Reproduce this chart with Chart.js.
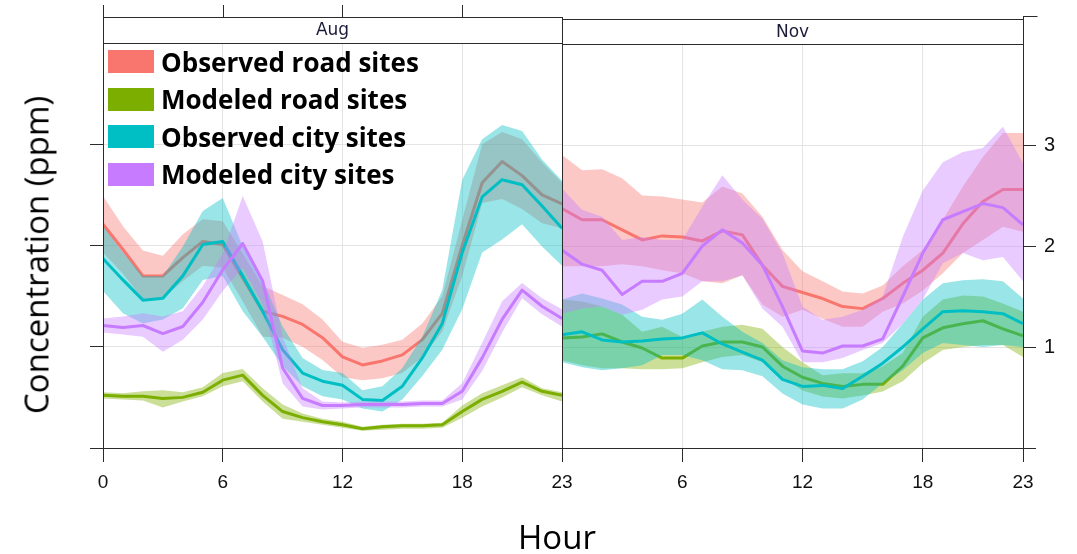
<!DOCTYPE html>
<html>
<head>
<meta charset="utf-8">
<title>Hourly concentration by month</title>
<script src="https://cdn.jsdelivr.net/npm/chart.js@4.4.1/dist/chart.umd.min.js"></script>
<style>
  html, body { margin: 0; padding: 0; background: #fff; }
  #wrap { position: relative; width: 1077px; height: 554px; overflow: hidden; background: #fff; }
  #wrap canvas { position: absolute; left: 0; top: 0; }
  .ytitle { position: absolute; left: 36px; top: 255px; transform: translate(-50%, -50%) rotate(-90deg);
            font: 33px 'Open Sans', Lato, sans-serif; color: #000; white-space: nowrap; }
  .xtitle { position: absolute; left: 557px; top: 536px; transform: translate(-50%, -50%);
            font: 33px 'Open Sans', Lato, sans-serif; color: #000; white-space: nowrap; }
  .legend { position: absolute; left: 108px; top: 43px; }
  .legend .row { display: flex; align-items: center; height: 37.5px; }
  .legend .sw { width: 46px; height: 23px; margin-right: 7px; }
  .legend .lab { font: bold 26px 'Open Sans', Lato, sans-serif; color: #000; white-space: nowrap; }
</style>
</head>
<body>
<div id="wrap">
  <canvas id="aug" width="1077" height="554"></canvas>
  <canvas id="nov" width="1077" height="554"></canvas>
  <div class="ytitle">Concentration (ppm)</div>
  <div class="xtitle">Hour</div>
  <div class="legend" id="legend"></div>
</div>
<script>
// Hour of day
const hours = [0,1,2,3,4,5,6,7,8,9,10,11,12,13,14,15,16,17,18,19,20,21,22,23];
const augHourTicks = [0, 6, 12, 18, 23];
const novHourTicks = [6, 12, 18, 23];
const concTicks = [0, 1, 2, 3];

const seriesNames = ['Observed road sites', 'Modeled road sites', 'Observed city sites', 'Modeled city sites'];
const seriesColors = ['#F8766D', '#7CAE00', '#00BFC4', '#C77CFF'];

// August: mean and band (low / high) per hour
const augObsRoad   = [2.21,1.96,1.70,1.70,1.88,2.04,2.01,1.68,1.35,1.30,1.22,1.09,0.90,0.82,0.86,0.92,1.07,1.33,2.00,2.62,2.83,2.69,2.50,2.41];
const augObsRoadLo = [1.93,1.72,1.47,1.48,1.65,1.80,1.78,1.45,1.10,1.09,1.00,0.87,0.70,0.67,0.69,0.74,0.90,1.15,1.70,2.42,2.46,2.36,2.22,2.17];
const augObsRoadHi = [2.49,2.19,1.95,1.90,2.11,2.26,2.24,1.92,1.60,1.51,1.42,1.27,1.05,0.99,1.02,1.07,1.23,1.50,2.25,3.00,3.12,3.05,2.82,2.62];

const augModRoad   = [0.52,0.51,0.51,0.49,0.50,0.55,0.67,0.72,0.52,0.36,0.30,0.26,0.23,0.19,0.21,0.22,0.22,0.23,0.36,0.48,0.56,0.65,0.56,0.52];
const augModRoadLo = [0.49,0.48,0.47,0.40,0.46,0.51,0.61,0.66,0.46,0.29,0.26,0.23,0.20,0.17,0.18,0.19,0.19,0.20,0.30,0.41,0.50,0.60,0.52,0.46];
const augModRoadHi = [0.55,0.54,0.56,0.57,0.55,0.60,0.74,0.78,0.59,0.43,0.34,0.29,0.26,0.21,0.23,0.24,0.24,0.25,0.42,0.54,0.62,0.70,0.59,0.55];

const augObsCity   = [1.87,1.66,1.46,1.48,1.70,2.01,2.04,1.70,1.35,0.97,0.74,0.66,0.62,0.48,0.47,0.61,0.89,1.23,1.93,2.48,2.65,2.60,2.39,2.17];
const augObsCityLo = [1.55,1.33,1.23,1.27,1.38,1.66,1.70,1.35,1.10,0.81,0.61,0.51,0.48,0.39,0.36,0.48,0.71,0.97,1.37,1.93,2.06,2.21,1.99,1.80];
const augObsCityHi = [2.19,1.93,1.70,1.70,1.99,2.34,2.47,1.99,1.66,1.20,0.89,0.77,0.74,0.57,0.61,0.79,1.10,1.56,2.65,3.05,3.19,3.13,2.85,2.64];

const augModCity   = [1.21,1.19,1.21,1.13,1.20,1.44,1.76,2.02,1.65,0.79,0.49,0.42,0.42,0.43,0.43,0.43,0.44,0.44,0.56,0.89,1.27,1.56,1.40,1.28];
const augModCityLo = [1.14,1.12,1.10,0.95,1.07,1.27,1.55,1.78,1.42,0.64,0.41,0.38,0.39,0.40,0.40,0.40,0.41,0.41,0.48,0.76,1.14,1.48,1.32,1.20];
const augModCityHi = [1.28,1.30,1.33,1.30,1.35,1.60,1.92,2.49,2.04,1.10,0.59,0.46,0.45,0.46,0.46,0.46,0.47,0.47,0.64,1.04,1.45,1.63,1.48,1.37];

// November: mean and band (low / high) per hour
const novObsRoad   = [2.37,2.26,2.26,2.16,2.06,2.10,2.09,2.05,2.15,2.11,1.81,1.60,1.54,1.48,1.40,1.38,1.48,1.63,1.76,1.93,2.22,2.44,2.56,2.56];
const novObsRoadLo = [1.80,1.80,1.80,1.82,1.80,1.76,1.73,1.65,1.63,1.71,1.42,1.30,1.37,1.28,1.20,1.20,1.35,1.43,1.56,1.73,1.93,2.06,2.19,2.14];
const novObsRoadHi = [2.90,2.75,2.76,2.67,2.50,2.49,2.46,2.43,2.59,2.52,2.29,1.96,1.75,1.65,1.55,1.53,1.61,1.80,1.96,2.26,2.59,2.88,3.12,3.12];

const novModRoad   = [1.09,1.10,1.13,1.05,0.99,0.89,0.89,1.01,1.05,1.05,1.00,0.81,0.70,0.64,0.61,0.63,0.63,0.81,1.09,1.19,1.23,1.26,1.18,1.11];
const novModRoadLo = [0.87,0.82,0.79,0.79,0.78,0.78,0.79,0.85,0.90,0.92,0.85,0.70,0.57,0.51,0.49,0.52,0.56,0.66,0.84,0.97,1.00,1.02,1.02,0.90];
const novModRoadHi = [1.47,1.45,1.40,1.32,1.15,1.20,1.10,1.15,1.20,1.22,1.18,1.00,0.85,0.72,0.74,0.74,0.81,0.94,1.30,1.47,1.51,1.50,1.43,1.35];

const novObsCity   = [1.12,1.15,1.07,1.05,1.06,1.08,1.09,1.14,1.03,0.95,0.87,0.68,0.61,0.62,0.59,0.71,0.84,1.00,1.18,1.35,1.36,1.35,1.33,1.23];
const novObsCityLo = [0.85,0.80,0.77,0.79,0.82,0.92,0.92,0.87,0.78,0.77,0.71,0.54,0.43,0.39,0.39,0.48,0.64,0.77,0.94,1.04,1.02,1.00,1.02,1.00];
const novObsCityHi = [1.47,1.53,1.48,1.42,1.30,1.27,1.33,1.47,1.30,1.15,1.04,0.87,0.80,0.78,0.78,0.86,1.00,1.23,1.47,1.63,1.66,1.67,1.65,1.48];

const novModCity   = [1.96,1.82,1.76,1.52,1.65,1.65,1.73,2.00,2.16,2.03,1.81,1.40,0.96,0.94,1.01,1.01,1.08,1.50,1.93,2.26,2.34,2.42,2.38,2.21];
const novModCityLo = [1.33,1.38,1.40,1.32,1.37,1.47,1.50,1.65,1.65,1.71,1.38,1.20,0.85,0.85,0.89,0.97,1.04,1.23,1.47,1.83,1.93,1.86,1.89,1.65];
const novModCityHi = [2.57,2.36,2.29,2.06,2.09,2.06,2.06,2.39,2.70,2.46,2.27,1.93,1.40,1.27,1.30,1.37,1.50,2.09,2.55,2.83,2.93,2.97,3.18,2.82];

// ---- legend ----
const legendEl = document.getElementById('legend');
seriesNames.forEach((name, i) => {
  const row = document.createElement('div');
  row.className = 'row';
  row.innerHTML = '<div class="sw" style="background:' + seriesColors[i] + '"></div><div class="lab">' + name + '</div>';
  legendEl.appendChild(row);
});

function withAlpha(hex, a) {
  const n = parseInt(hex.slice(1), 16);
  return 'rgba(' + (n >> 16) + ',' + ((n >> 8) & 255) + ',' + (n & 255) + ',' + a + ')';
}

// Each series = low edge, high edge filled down to it, then the mean line.
// Larger "order" is painted first, so the first series sits at the bottom.
function seriesDatasets(mean, lo, hi, color, rank) {
  const pts = arr => arr.map((v, i) => ({ x: hours[i], y: v }));
  const base = rank * 3;
  return [
    { data: pts(lo), borderWidth: 0, pointRadius: 0, fill: false, order: base + 2, borderColor: 'rgba(0,0,0,0)' },
    { data: pts(hi), borderWidth: 0, pointRadius: 0, fill: '-1', order: base + 1,
      borderColor: 'rgba(0,0,0,0)', backgroundColor: withAlpha(color, 0.4) },
    { data: pts(mean), borderWidth: 3, pointRadius: 0, fill: false, order: base,
      borderColor: color, borderJoinStyle: 'round', borderCapStyle: 'butt' }
  ];
}

function buildDatasets(groups) {
  let out = [];
  groups.forEach((g, i) => {
    out = out.concat(seriesDatasets(g[0], g[1], g[2], seriesColors[i], groups.length - 1 - i));
  });
  return out;
}

const GRID = '#e4e4e4';
const AXIS = '#2b2b2b';

// Strip header, panel frame and the small outer tick stubs
const panelDecor = {
  id: 'panelDecor',
  afterDraw(chart, args, opts) {
    const { ctx, chartArea: a } = chart;
    const xs = chart.scales.x;
    ctx.save();
    ctx.lineWidth = 1;
    ctx.strokeStyle = AXIS;
    // panel frame
    ctx.strokeRect(Math.round(a.left) + 0.5, Math.round(a.top) + 0.5,
                   Math.round(a.right - a.left), Math.round(a.bottom - a.top));
    // strip
    const st = opts.stripTop;
    ctx.fillStyle = '#fff';
    ctx.fillRect(a.left, st, a.right - a.left, a.top - st);
    ctx.strokeRect(Math.round(a.left) + 0.5, st + 0.5, Math.round(a.right - a.left), Math.round(a.top - st));
    ctx.fillStyle = '#1c1c3a';
    ctx.font = '17px "DejaVu Sans", sans-serif';
    ctx.textAlign = 'center';
    ctx.textBaseline = 'middle';
    ctx.fillText(opts.label, (a.left + a.right) / 2, (st + a.top) / 2 + 1);
    // tick stubs above the strip
    ctx.beginPath();
    (opts.topTicks || []).forEach(v => {
      const px = Math.round(xs.getPixelForValue(v)) + 0.5;
      ctx.moveTo(px, st - 12); ctx.lineTo(px, st);
    });
    if (opts.leftStub) { const px = Math.round(a.left) + 0.5; ctx.moveTo(px, st - 12); ctx.lineTo(px, st); }
    if (opts.rightStub) {
      const px = Math.round(a.right) + 0.5;
      ctx.moveTo(px, st - 3); ctx.lineTo(px, st);
      ctx.moveTo(px, st - 3 + 0.5); ctx.lineTo(px + opts.rightStub, st - 3 + 0.5);
    }
    ctx.stroke();
    ctx.restore();
  }
};

const tickFont = { family: "'Liberation Sans Narrow', 'Liberation Sans', Arial, sans-serif", size: 19 };

function xScale(tickValues) {
  return {
    type: 'linear', min: 0, max: 23,
    afterBuildTicks: s => { s.ticks = tickValues.map(v => ({ value: v })); },
    afterFit: s => { s.height = 50; },
    grid: {
      color: c => (c.tick && (c.tick.value === 0 || c.tick.value === 23)) ? 'rgba(0,0,0,0)' : GRID,
      tickColor: AXIS, tickLength: 14, drawTicks: true, lineWidth: 1
    },
    border: { display: true, color: AXIS, width: 1 },
    ticks: { font: tickFont, color: '#111', padding: 9, maxRotation: 0, autoSkip: false }
  };
}

function yScale(position, showLabels, width) {
  return {
    type: 'linear', position: position, min: 0, max: 4,
    afterBuildTicks: s => { s.ticks = concTicks.map(v => ({ value: v })); },
    afterFit: s => { s.width = width; },
    grid: {
      color: c => (c.tick && c.tick.value === 0) ? 'rgba(0,0,0,0)' : GRID,
      tickColor: AXIS, tickLength: 13, drawTicks: true, lineWidth: 1
    },
    border: { display: true, color: AXIS, width: 1 },
    ticks: {
      display: showLabels,
      font: { family: "'Liberation Sans', Arial, sans-serif", size: 20 },
      color: '#111', padding: 8,
      callback: v => (v === 0 ? '' : String(v))
    }
  };
}

function makeChart(id, groups, cfg) {
  return new Chart(document.getElementById(id), {
    type: 'line',
    data: { datasets: buildDatasets(groups) },
    options: {
      responsive: false,
      animation: false,
      events: [],
      devicePixelRatio: 1,
      layout: { padding: cfg.padding },
      elements: { line: { tension: 0 } },
      scales: { x: xScale(cfg.xTicks), y: yScale(cfg.yPos, cfg.yLabels, cfg.yWidth) },
      plugins: {
        legend: { display: false },
        tooltip: { enabled: false },
        panelDecor: cfg.decor
      }
    },
    plugins: [panelDecor]
  });
}

makeChart('aug', [
  [augObsRoad, augObsRoadLo, augObsRoadHi],
  [augModRoad, augModRoadLo, augModRoadHi],
  [augObsCity, augObsCityLo, augObsCityHi],
  [augModCity, augModCityLo, augModCityHi]
], {
  padding: { left: 90, right: 515, top: 43, bottom: 56 },
  xTicks: augHourTicks, yPos: 'left', yLabels: false, yWidth: 13,
  decor: { label: 'Aug', stripTop: 17, topTicks: [6, 12, 18], leftStub: true, rightStub: 0 }
});

makeChart('nov', [
  [novObsRoad, novObsRoadLo, novObsRoadHi],
  [novModRoad, novModRoadLo, novModRoadHi],
  [novObsCity, novObsCityLo, novObsCityHi],
  [novModCity, novModCityLo, novModCityHi]
], {
  padding: { left: 562, right: 4, top: 44, bottom: 56 },
  xTicks: novHourTicks, yPos: 'right', yLabels: true, yWidth: 50,
  decor: { label: 'Nov', stripTop: 19, topTicks: [], leftStub: false, rightStub: 14 }
});
</script>
</body>
</html>
